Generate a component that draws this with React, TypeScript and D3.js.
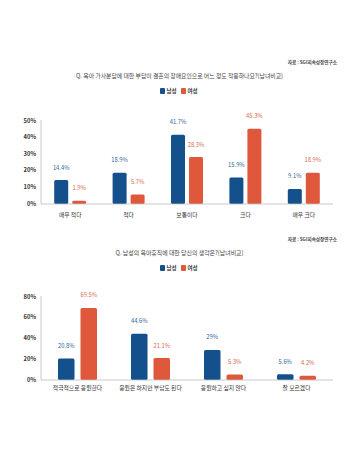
import React from 'react';
import * as d3 from 'd3';

const SOURCE = '자료 : SGI지속성장연구소';
const series = ['남성', '여성'];

const title1 = 'Q. 육아 가사분담에 대한 부담이 결혼의 장애요인으로 어느 정도 작용하나요?(남녀비교)';
const cats1 = ['매우 적다', '적다', '보통이다', '크다', '매우 크다'];
const male1 = [14.4, 18.9, 41.7, 15.9, 9.1];
const female1 = [1.9, 5.7, 28.3, 45.3, 18.9];
const ticks1 = [0, 10, 20, 30, 40, 50];

const title2 = 'Q. 남성의 육아휴직에 대한 당신의 생각은?(남녀비교)';
const cats2 = ['적극적으로 응원한다', '응원은 하지만 부담도 된다', '응원하고 싶지 않다', '잘 모르겠다'];
const male2 = [20.8, 44.6, 29, 5.6];
const female2 = [69.5, 21.1, 5.3, 4.2];
const ticks2 = [0, 20, 40, 60, 80];

const BLUE = '#14508c';
const RED = '#e0583c';
const BLUE_TXT = '#2f6594';
const RED_TXT = '#d8664e';
const FONT = '"Noto Sans CJK KR", "Noto Sans", sans-serif';

type ChartProps = {
  top: number; // y of source line
  title: string;
  titleWidth: number;
  cats: string[];
  male: number[];
  female: number[];
  ticks: number[];
  yTop: number;
  yBottom: number;
  barW: number;
  gap: number;
  catY: number;
};

function Chart(p: ChartProps) {
  const x0 = 41, x1 = 333;
  const x = d3.scaleBand().domain(p.cats).range([x0, x1]);
  const y = d3.scaleLinear().domain([0, p.ticks[p.ticks.length - 1]]).range([p.yBottom, p.yTop]);
  const fmt = (v: number) => `${v}%`;
  const legendY = p.top + 28;
  return (
    <g>
      <text x={337} y={p.top} textAnchor="end" fontSize={4.6} fill="#444" fontWeight="bold" dominantBaseline="middle">{SOURCE}</text>
      <text x={179.5} y={p.top + 13} textAnchor="middle" fontSize={6.2} fill="#444" dominantBaseline="middle"
        textLength={p.titleWidth} lengthAdjust="spacingAndGlyphs">{p.title}</text>
      {series.map((s, i) => (
        <g key={s} transform={`translate(${160 + i * 21},${legendY})`}>
          <rect x={0} y={-3} width={5} height={6} rx={1} fill={i === 0 ? BLUE : RED} />
          <text x={6.5} y={0} fontSize={5.5} fill="#333" fontWeight="bold" dominantBaseline="middle">{s}</text>
        </g>
      ))}
      {p.ticks.map(t => (
        <text key={t} x={36} y={y(t)} textAnchor="end" fontSize={5.8} fontWeight="bold" fill="#333" dominantBaseline="middle">{fmt(t)}</text>
      ))}
      <line x1={x0} x2={x0} y1={p.yTop - 1} y2={p.yBottom} stroke="#bbb" strokeWidth={0.8} />
      {p.cats.map((c, i) => {
        const cx = (x(c) as number) + x.bandwidth() / 2;
        const vals = [p.male[i], p.female[i]];
        return (
          <g key={c}>
            {vals.map((v, j) => {
              const bx = j === 0 ? cx - p.gap / 2 - p.barW : cx + p.gap / 2;
              return (
                <g key={j}>
                  <rect x={bx} y={y(v)} width={p.barW} height={p.yBottom - y(v)} rx={1.5} fill={j === 0 ? BLUE : RED} />
                  <text x={bx + p.barW / 2} y={y(v) - 12} textAnchor="middle" fontSize={5.8} fill={j === 0 ? BLUE_TXT : RED_TXT}
                    dominantBaseline="middle">{fmt(v)}</text>
                </g>
              );
            })}
            <text x={cx} y={p.catY} textAnchor="middle" fontSize={5.8} fill="#333" dominantBaseline="middle">{c}</text>
          </g>
        );
      })}
      <line x1={x0} x2={x1} y1={p.yBottom} y2={p.yBottom} stroke="#bbb" strokeWidth={0.8} />
    </g>
  );
}

export default function App() {
  return (
    <svg width={359} height={454} style={{ position: 'absolute', left: 0, top: 0, background: '#fff', fontFamily: FONT }}>
      <rect width={359} height={454} fill="#fff" />
      <Chart top={63} title={title1} titleWidth={207} cats={cats1} male={male1} female={female1} ticks={ticks1}
        yTop={121} yBottom={204} barW={14} gap={4} catY={215} />
      <Chart top={240} title={title2} titleWidth={128} cats={cats2} male={male2} female={female2} ticks={ticks2}
        yTop={297} yBottom={380} barW={16.5} gap={6} catY={388} />
    </svg>
  );
}
